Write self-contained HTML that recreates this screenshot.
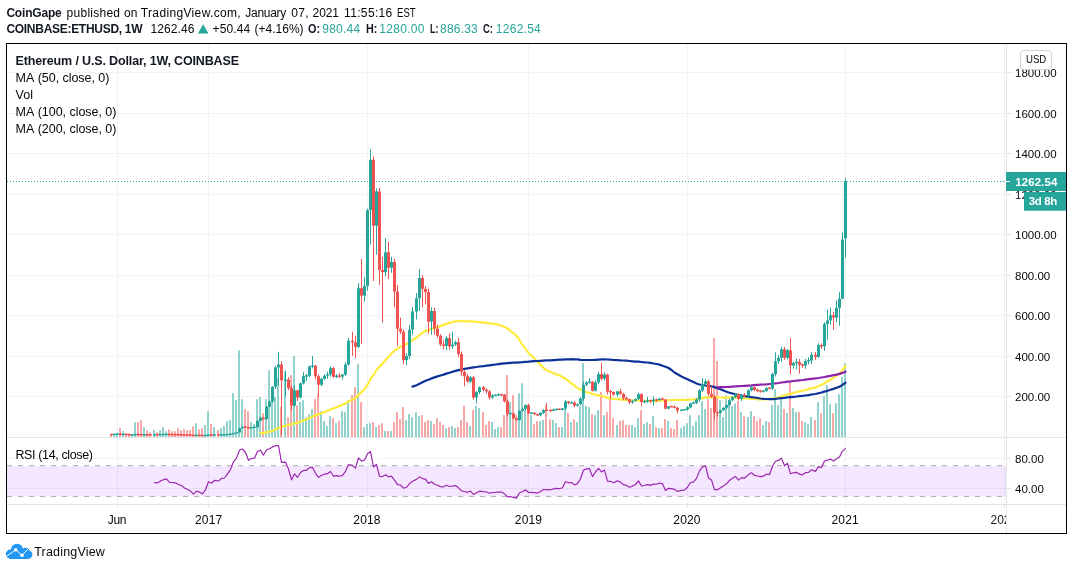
<!DOCTYPE html><html><head><meta charset="utf-8"><title>ETHUSD</title><style>
html,body{margin:0;padding:0;background:#fff}
body{width:1073px;height:570px;position:relative;overflow:hidden;font-family:"Liberation Sans",sans-serif;color:#131722}
span{white-space:nowrap}
#txt{position:absolute;left:0;top:0;width:1073px;height:570px;will-change:transform;opacity:0.999}
#frame{position:absolute;left:6px;top:43px;width:1061px;height:491px;box-sizing:border-box;border:1px solid #000}
svg{position:absolute;left:0;top:0}
</style></head><body><div id="txt">
<span style="position:absolute;left:6.40px;top:6px;font-size:12px;line-height:14px;letter-spacing:-0.196px;color:#131722;font-weight:bold;">CoinGape</span>
<span style="position:absolute;left:66.60px;top:6px;font-size:12px;line-height:14px;letter-spacing:0.258px;color:#05070d;">published&nbsp;on</span>
<span style="position:absolute;left:140.80px;top:6px;font-size:12px;line-height:14px;letter-spacing:0.346px;color:#05070d;">TradingView.com,</span>
<span style="position:absolute;left:245.30px;top:6px;font-size:12px;line-height:14px;letter-spacing:-0.282px;color:#05070d;">January</span>
<span style="position:absolute;left:291.30px;top:6px;font-size:12px;line-height:14px;letter-spacing:0.259px;color:#05070d;">07,</span>
<span style="position:absolute;left:312.60px;top:6px;font-size:12px;line-height:14px;letter-spacing:-0.132px;color:#05070d;">2021</span>
<span style="position:absolute;left:344.00px;top:6px;font-size:12px;line-height:14px;letter-spacing:0.354px;color:#05070d;">11:55:16</span>
<span style="position:absolute;left:396.80px;top:6px;font-size:12px;line-height:14px;letter-spacing:0.000px;color:#05070d;display:inline-block;transform-origin:0 0;transform:scaleX(0.7969);">EST</span>
<span style="position:absolute;left:6.40px;top:22px;font-size:12px;line-height:14px;letter-spacing:-0.286px;color:#131722;font-weight:bold;">COINBASE:ETHUSD,&nbsp;1W</span>
<span style="position:absolute;left:150.40px;top:22px;font-size:12px;line-height:14px;letter-spacing:0.120px;color:#05070d;">1262.46</span>
<span style="position:absolute;left:212.50px;top:22px;font-size:12px;line-height:14px;letter-spacing:0.132px;color:#05070d;">+50.44</span>
<span style="position:absolute;left:254.60px;top:22px;font-size:12px;line-height:14px;letter-spacing:-0.004px;color:#05070d;">(+4.16%)</span>
<span style="position:absolute;left:308.40px;top:22px;font-size:12px;line-height:14px;letter-spacing:0.000px;color:#131722;font-weight:bold;display:inline-block;transform-origin:0 0;transform:scaleX(0.9077);">O:</span>
<span style="position:absolute;left:322.30px;top:22px;font-size:12px;line-height:14px;letter-spacing:0.219px;color:#26a69a;">980.44</span>
<span style="position:absolute;left:365.80px;top:22px;font-size:12px;line-height:14px;letter-spacing:0.000px;color:#131722;font-weight:bold;display:inline-block;transform-origin:0 0;transform:scaleX(0.9003);">H:</span>
<span style="position:absolute;left:379.20px;top:22px;font-size:12px;line-height:14px;letter-spacing:0.320px;color:#26a69a;">1280.00</span>
<span style="position:absolute;left:430.00px;top:22px;font-size:12px;line-height:14px;letter-spacing:0.000px;color:#131722;font-weight:bold;display:inline-block;transform-origin:0 0;transform:scaleX(0.7416);">L:</span>
<span style="position:absolute;left:440.10px;top:22px;font-size:12px;line-height:14px;letter-spacing:0.199px;color:#26a69a;">886.33</span>
<span style="position:absolute;left:483.40px;top:22px;font-size:12px;line-height:14px;letter-spacing:0.000px;color:#131722;font-weight:bold;display:inline-block;transform-origin:0 0;transform:scaleX(0.7818);">C:</span>
<span style="position:absolute;left:495.80px;top:22px;font-size:12px;line-height:14px;letter-spacing:0.270px;color:#26a69a;">1262.54</span>
<svg width="1073" height="570" viewBox="0 0 1073 570">
<path d="M197.9 33.5 L203.2 24.3 L208.4 33.5 Z" fill="#26a69a"/>
<rect x="117.0" y="44" width="1" height="460" fill="#f1f3f4"/>
<rect x="117.0" y="505" width="1" height="3" fill="#e2e4e8"/>
<rect x="208.0" y="44" width="1" height="460" fill="#f1f3f4"/>
<rect x="208.0" y="505" width="1" height="3" fill="#e2e4e8"/>
<rect x="367.0" y="44" width="1" height="460" fill="#f1f3f4"/>
<rect x="367.0" y="505" width="1" height="3" fill="#e2e4e8"/>
<rect x="528.0" y="44" width="1" height="460" fill="#f1f3f4"/>
<rect x="528.0" y="505" width="1" height="3" fill="#e2e4e8"/>
<rect x="687.0" y="44" width="1" height="460" fill="#f1f3f4"/>
<rect x="687.0" y="505" width="1" height="3" fill="#e2e4e8"/>
<rect x="845.0" y="44" width="1" height="460" fill="#f1f3f4"/>
<rect x="845.0" y="505" width="1" height="3" fill="#e2e4e8"/>
<rect x="1004.0" y="44" width="1" height="460" fill="#f1f3f4"/>
<rect x="1004.0" y="505" width="1" height="3" fill="#e2e4e8"/>
<rect x="7" y="396" width="999" height="1" fill="#f1f3f4"/>
<rect x="1007" y="396" width="4" height="1" fill="#e2e4e8"/>
<rect x="7" y="356" width="999" height="1" fill="#f1f3f4"/>
<rect x="1007" y="356" width="4" height="1" fill="#e2e4e8"/>
<rect x="7" y="315" width="999" height="1" fill="#f1f3f4"/>
<rect x="1007" y="315" width="4" height="1" fill="#e2e4e8"/>
<rect x="7" y="275" width="999" height="1" fill="#f1f3f4"/>
<rect x="1007" y="275" width="4" height="1" fill="#e2e4e8"/>
<rect x="7" y="234" width="999" height="1" fill="#f1f3f4"/>
<rect x="1007" y="234" width="4" height="1" fill="#e2e4e8"/>
<rect x="7" y="194" width="999" height="1" fill="#f1f3f4"/>
<rect x="1007" y="194" width="4" height="1" fill="#e2e4e8"/>
<rect x="7" y="153" width="999" height="1" fill="#f1f3f4"/>
<rect x="1007" y="153" width="4" height="1" fill="#e2e4e8"/>
<rect x="7" y="113" width="999" height="1" fill="#f1f3f4"/>
<rect x="1007" y="113" width="4" height="1" fill="#e2e4e8"/>
<rect x="7" y="72" width="999" height="1" fill="#f1f3f4"/>
<rect x="1007" y="72" width="4" height="1" fill="#e2e4e8"/>
<rect x="7" y="458" width="999" height="1" fill="#f1f3f4"/>
<rect x="1007" y="458" width="4" height="1" fill="#e2e4e8"/>
<rect x="7" y="488" width="999" height="1" fill="#f1f3f4"/>
<rect x="1007" y="488" width="4" height="1" fill="#e2e4e8"/>
<rect x="7" y="437" width="1059" height="1" fill="#e2e4e8"/>
<rect x="7" y="504" width="1059" height="1" fill="#e2e4e8"/>
<rect x="1006" y="44" width="1" height="489" fill="#e2e4e8"/>
<rect x="7" y="466" width="999" height="30.5" fill="rgba(170,60,255,0.12)"/>
<line x1="7" y1="465.7" x2="1006" y2="465.7" stroke="#ababab" stroke-width="1" stroke-dasharray="5 6"/>
<line x1="7" y1="496.4" x2="1006" y2="496.4" stroke="#ababab" stroke-width="1" stroke-dasharray="5 6"/>
<rect x="110" y="434.0" width="2" height="3.0" fill="#f7a8a6"/>
<rect x="113" y="434.0" width="2" height="3.0" fill="#92d2cc"/>
<rect x="116" y="433.0" width="2" height="4.0" fill="#92d2cc"/>
<rect x="119" y="428.0" width="2" height="9.0" fill="#f7a8a6"/>
<rect x="122" y="431.2" width="2" height="5.8" fill="#92d2cc"/>
<rect x="125" y="433.3" width="2" height="3.7" fill="#f7a8a6"/>
<rect x="128" y="433.3" width="2" height="3.7" fill="#f7a8a6"/>
<rect x="131" y="434.2" width="2" height="2.8" fill="#92d2cc"/>
<rect x="134" y="422.3" width="2" height="14.7" fill="#92d2cc"/>
<rect x="137" y="422.3" width="2" height="14.7" fill="#f7a8a6"/>
<rect x="140" y="420.1" width="2" height="16.9" fill="#f7a8a6"/>
<rect x="143" y="427.2" width="2" height="9.8" fill="#92d2cc"/>
<rect x="146" y="430.2" width="2" height="6.8" fill="#f7a8a6"/>
<rect x="149" y="432.2" width="2" height="4.8" fill="#f7a8a6"/>
<rect x="153" y="430.2" width="2" height="6.8" fill="#92d2cc"/>
<rect x="156" y="432.2" width="2" height="4.8" fill="#f7a8a6"/>
<rect x="159" y="430.2" width="2" height="6.8" fill="#92d2cc"/>
<rect x="162" y="427.2" width="2" height="9.8" fill="#92d2cc"/>
<rect x="165" y="431.2" width="2" height="5.8" fill="#92d2cc"/>
<rect x="168" y="429.3" width="2" height="7.7" fill="#f7a8a6"/>
<rect x="171" y="431.2" width="2" height="5.8" fill="#f7a8a6"/>
<rect x="174" y="431.2" width="2" height="5.8" fill="#f7a8a6"/>
<rect x="177" y="428.1" width="2" height="8.9" fill="#f7a8a6"/>
<rect x="180" y="430.2" width="2" height="6.8" fill="#f7a8a6"/>
<rect x="183" y="429.3" width="2" height="7.7" fill="#f7a8a6"/>
<rect x="186" y="430.2" width="2" height="6.8" fill="#f7a8a6"/>
<rect x="189" y="430.2" width="2" height="6.8" fill="#f7a8a6"/>
<rect x="192" y="426.3" width="2" height="10.7" fill="#f7a8a6"/>
<rect x="195" y="423.2" width="2" height="13.8" fill="#92d2cc"/>
<rect x="198" y="429.3" width="2" height="7.7" fill="#f7a8a6"/>
<rect x="201" y="428.1" width="2" height="8.9" fill="#f7a8a6"/>
<rect x="204" y="425.0" width="2" height="12.0" fill="#92d2cc"/>
<rect x="207" y="411.2" width="2" height="25.8" fill="#92d2cc"/>
<rect x="210" y="424.0" width="2" height="13.0" fill="#f7a8a6"/>
<rect x="213" y="427.1" width="2" height="9.9" fill="#92d2cc"/>
<rect x="217" y="430.1" width="2" height="6.9" fill="#f7a8a6"/>
<rect x="220" y="428.1" width="2" height="8.9" fill="#92d2cc"/>
<rect x="223" y="426.0" width="2" height="11.0" fill="#92d2cc"/>
<rect x="226" y="421.1" width="2" height="15.9" fill="#92d2cc"/>
<rect x="229" y="420.1" width="2" height="16.9" fill="#92d2cc"/>
<rect x="232" y="393.0" width="2" height="44.0" fill="#92d2cc"/>
<rect x="235" y="400.2" width="2" height="36.8" fill="#92d2cc"/>
<rect x="238" y="350.5" width="2" height="86.5" fill="#92d2cc"/>
<rect x="241" y="399.2" width="2" height="37.8" fill="#92d2cc"/>
<rect x="244" y="409.1" width="2" height="27.9" fill="#f7a8a6"/>
<rect x="247" y="411.2" width="2" height="25.8" fill="#f7a8a6"/>
<rect x="250" y="422.0" width="2" height="15.0" fill="#92d2cc"/>
<rect x="253" y="424.0" width="2" height="13.0" fill="#92d2cc"/>
<rect x="256" y="399.2" width="2" height="37.8" fill="#92d2cc"/>
<rect x="259" y="397.1" width="2" height="39.9" fill="#92d2cc"/>
<rect x="262" y="413.2" width="2" height="23.8" fill="#f7a8a6"/>
<rect x="265" y="399.2" width="2" height="37.8" fill="#92d2cc"/>
<rect x="268" y="370.2" width="2" height="66.8" fill="#92d2cc"/>
<rect x="271" y="392.3" width="2" height="44.7" fill="#92d2cc"/>
<rect x="274" y="397.0" width="2" height="40.0" fill="#92d2cc"/>
<rect x="277" y="377.7" width="2" height="59.3" fill="#92d2cc"/>
<rect x="280" y="407.1" width="2" height="29.9" fill="#f7a8a6"/>
<rect x="284" y="371.2" width="2" height="65.8" fill="#92d2cc"/>
<rect x="287" y="417.3" width="2" height="19.7" fill="#f7a8a6"/>
<rect x="290" y="375.1" width="2" height="61.9" fill="#f7a8a6"/>
<rect x="293" y="356.1" width="2" height="80.9" fill="#92d2cc"/>
<rect x="296" y="405.3" width="2" height="31.7" fill="#f7a8a6"/>
<rect x="299" y="402.0" width="2" height="35.0" fill="#92d2cc"/>
<rect x="302" y="400.2" width="2" height="36.8" fill="#92d2cc"/>
<rect x="305" y="417.3" width="2" height="19.7" fill="#92d2cc"/>
<rect x="308" y="414.2" width="2" height="22.8" fill="#92d2cc"/>
<rect x="311" y="409.1" width="2" height="27.9" fill="#92d2cc"/>
<rect x="314" y="399.2" width="2" height="37.8" fill="#f7a8a6"/>
<rect x="317" y="394.4" width="2" height="42.6" fill="#f7a8a6"/>
<rect x="320" y="411.2" width="2" height="25.8" fill="#92d2cc"/>
<rect x="323" y="421.1" width="2" height="15.9" fill="#92d2cc"/>
<rect x="326" y="426.0" width="2" height="11.0" fill="#92d2cc"/>
<rect x="329" y="416.1" width="2" height="20.9" fill="#92d2cc"/>
<rect x="332" y="418.1" width="2" height="18.9" fill="#f7a8a6"/>
<rect x="335" y="423.2" width="2" height="13.8" fill="#92d2cc"/>
<rect x="338" y="421.1" width="2" height="15.9" fill="#f7a8a6"/>
<rect x="341" y="411.2" width="2" height="25.8" fill="#92d2cc"/>
<rect x="344" y="412.2" width="2" height="24.8" fill="#92d2cc"/>
<rect x="347" y="400.2" width="2" height="36.8" fill="#92d2cc"/>
<rect x="351" y="395.1" width="2" height="41.9" fill="#f7a8a6"/>
<rect x="354" y="387.1" width="2" height="49.9" fill="#f7a8a6"/>
<rect x="357" y="364.3" width="2" height="72.7" fill="#92d2cc"/>
<rect x="360" y="402.1" width="2" height="34.9" fill="#f7a8a6"/>
<rect x="363" y="427.1" width="2" height="9.9" fill="#92d2cc"/>
<rect x="366" y="424.0" width="2" height="13.0" fill="#92d2cc"/>
<rect x="369" y="423.2" width="2" height="13.8" fill="#92d2cc"/>
<rect x="372" y="422.1" width="2" height="14.9" fill="#f7a8a6"/>
<rect x="375" y="427.1" width="2" height="9.9" fill="#92d2cc"/>
<rect x="378" y="425.0" width="2" height="12.0" fill="#f7a8a6"/>
<rect x="381" y="423.2" width="2" height="13.8" fill="#f7a8a6"/>
<rect x="384" y="431.0" width="2" height="6.0" fill="#92d2cc"/>
<rect x="387" y="431.0" width="2" height="6.0" fill="#f7a8a6"/>
<rect x="390" y="431.0" width="2" height="6.0" fill="#92d2cc"/>
<rect x="393" y="422.1" width="2" height="14.9" fill="#f7a8a6"/>
<rect x="396" y="412.2" width="2" height="24.8" fill="#f7a8a6"/>
<rect x="399" y="419.1" width="2" height="17.9" fill="#f7a8a6"/>
<rect x="402" y="407.1" width="2" height="29.9" fill="#f7a8a6"/>
<rect x="405" y="420.1" width="2" height="16.9" fill="#92d2cc"/>
<rect x="408" y="414.0" width="2" height="23.0" fill="#92d2cc"/>
<rect x="411" y="417.1" width="2" height="19.9" fill="#92d2cc"/>
<rect x="415" y="412.2" width="2" height="24.8" fill="#92d2cc"/>
<rect x="418" y="416.1" width="2" height="20.9" fill="#92d2cc"/>
<rect x="421" y="415.1" width="2" height="21.9" fill="#f7a8a6"/>
<rect x="424" y="422.1" width="2" height="14.9" fill="#f7a8a6"/>
<rect x="427" y="420.1" width="2" height="16.9" fill="#f7a8a6"/>
<rect x="430" y="421.1" width="2" height="15.9" fill="#92d2cc"/>
<rect x="433" y="424.0" width="2" height="13.0" fill="#f7a8a6"/>
<rect x="436" y="418.1" width="2" height="18.9" fill="#f7a8a6"/>
<rect x="439" y="422.1" width="2" height="14.9" fill="#f7a8a6"/>
<rect x="442" y="425.0" width="2" height="12.0" fill="#f7a8a6"/>
<rect x="445" y="428.1" width="2" height="8.9" fill="#92d2cc"/>
<rect x="448" y="427.1" width="2" height="9.9" fill="#f7a8a6"/>
<rect x="451" y="426.0" width="2" height="11.0" fill="#92d2cc"/>
<rect x="454" y="428.1" width="2" height="8.9" fill="#92d2cc"/>
<rect x="457" y="427.1" width="2" height="9.9" fill="#f7a8a6"/>
<rect x="460" y="420.1" width="2" height="16.9" fill="#f7a8a6"/>
<rect x="463" y="406.0" width="2" height="31.0" fill="#f7a8a6"/>
<rect x="466" y="422.1" width="2" height="14.9" fill="#f7a8a6"/>
<rect x="469" y="426.0" width="2" height="11.0" fill="#92d2cc"/>
<rect x="472" y="410.1" width="2" height="26.9" fill="#f7a8a6"/>
<rect x="475" y="406.0" width="2" height="31.0" fill="#92d2cc"/>
<rect x="478" y="408.1" width="2" height="28.9" fill="#92d2cc"/>
<rect x="482" y="412.2" width="2" height="24.8" fill="#f7a8a6"/>
<rect x="485" y="425.0" width="2" height="12.0" fill="#f7a8a6"/>
<rect x="488" y="421.1" width="2" height="15.9" fill="#f7a8a6"/>
<rect x="491" y="422.0" width="2" height="15.0" fill="#92d2cc"/>
<rect x="494" y="429.1" width="2" height="7.9" fill="#92d2cc"/>
<rect x="497" y="427.1" width="2" height="9.9" fill="#92d2cc"/>
<rect x="500" y="427.1" width="2" height="9.9" fill="#f7a8a6"/>
<rect x="503" y="415.1" width="2" height="21.9" fill="#f7a8a6"/>
<rect x="506" y="375.0" width="2" height="62.0" fill="#f7a8a6"/>
<rect x="509" y="402.1" width="2" height="34.9" fill="#92d2cc"/>
<rect x="512" y="395.2" width="2" height="41.8" fill="#f7a8a6"/>
<rect x="515" y="415.2" width="2" height="21.8" fill="#f7a8a6"/>
<rect x="518" y="393.3" width="2" height="43.7" fill="#92d2cc"/>
<rect x="521" y="383.3" width="2" height="53.7" fill="#92d2cc"/>
<rect x="524" y="407.0" width="2" height="30.0" fill="#92d2cc"/>
<rect x="527" y="412.0" width="2" height="25.0" fill="#f7a8a6"/>
<rect x="530" y="415.2" width="2" height="21.8" fill="#92d2cc"/>
<rect x="533" y="424.1" width="2" height="12.9" fill="#f7a8a6"/>
<rect x="536" y="421.1" width="2" height="15.9" fill="#f7a8a6"/>
<rect x="539" y="421.1" width="2" height="15.9" fill="#92d2cc"/>
<rect x="542" y="420.0" width="2" height="17.0" fill="#92d2cc"/>
<rect x="545" y="405.3" width="2" height="31.7" fill="#f7a8a6"/>
<rect x="549" y="419.2" width="2" height="17.8" fill="#f7a8a6"/>
<rect x="552" y="420.0" width="2" height="17.0" fill="#92d2cc"/>
<rect x="555" y="423.1" width="2" height="13.9" fill="#92d2cc"/>
<rect x="558" y="427.1" width="2" height="9.9" fill="#f7a8a6"/>
<rect x="561" y="427.1" width="2" height="9.9" fill="#92d2cc"/>
<rect x="564" y="409.2" width="2" height="27.8" fill="#92d2cc"/>
<rect x="567" y="413.1" width="2" height="23.9" fill="#f7a8a6"/>
<rect x="570" y="422.0" width="2" height="15.0" fill="#92d2cc"/>
<rect x="573" y="419.2" width="2" height="17.8" fill="#f7a8a6"/>
<rect x="576" y="422.0" width="2" height="15.0" fill="#92d2cc"/>
<rect x="579" y="406.1" width="2" height="30.9" fill="#92d2cc"/>
<rect x="582" y="363.1" width="2" height="73.9" fill="#92d2cc"/>
<rect x="585" y="406.1" width="2" height="30.9" fill="#92d2cc"/>
<rect x="588" y="407.2" width="2" height="29.8" fill="#92d2cc"/>
<rect x="591" y="414.3" width="2" height="22.7" fill="#f7a8a6"/>
<rect x="594" y="415.2" width="2" height="21.8" fill="#92d2cc"/>
<rect x="597" y="410.0" width="2" height="27.0" fill="#92d2cc"/>
<rect x="600" y="392.1" width="2" height="44.9" fill="#f7a8a6"/>
<rect x="603" y="415.2" width="2" height="21.8" fill="#92d2cc"/>
<rect x="606" y="412.1" width="2" height="24.9" fill="#f7a8a6"/>
<rect x="609" y="398.5" width="2" height="38.5" fill="#f7a8a6"/>
<rect x="612" y="418.1" width="2" height="18.9" fill="#f7a8a6"/>
<rect x="616" y="425.0" width="2" height="12.0" fill="#92d2cc"/>
<rect x="619" y="421.1" width="2" height="15.9" fill="#f7a8a6"/>
<rect x="622" y="420.1" width="2" height="16.9" fill="#f7a8a6"/>
<rect x="625" y="425.0" width="2" height="12.0" fill="#f7a8a6"/>
<rect x="628" y="425.0" width="2" height="12.0" fill="#f7a8a6"/>
<rect x="631" y="425.0" width="2" height="12.0" fill="#92d2cc"/>
<rect x="634" y="427.1" width="2" height="9.9" fill="#92d2cc"/>
<rect x="637" y="418.1" width="2" height="18.9" fill="#92d2cc"/>
<rect x="640" y="410.1" width="2" height="26.9" fill="#f7a8a6"/>
<rect x="643" y="424.0" width="2" height="13.0" fill="#92d2cc"/>
<rect x="646" y="422.1" width="2" height="14.9" fill="#92d2cc"/>
<rect x="649" y="424.0" width="2" height="13.0" fill="#f7a8a6"/>
<rect x="652" y="416.1" width="2" height="20.9" fill="#92d2cc"/>
<rect x="655" y="427.1" width="2" height="9.9" fill="#f7a8a6"/>
<rect x="658" y="428.1" width="2" height="8.9" fill="#92d2cc"/>
<rect x="661" y="428.1" width="2" height="8.9" fill="#f7a8a6"/>
<rect x="664" y="419.1" width="2" height="17.9" fill="#f7a8a6"/>
<rect x="667" y="421.1" width="2" height="15.9" fill="#92d2cc"/>
<rect x="670" y="428.1" width="2" height="8.9" fill="#f7a8a6"/>
<rect x="673" y="429.1" width="2" height="7.9" fill="#f7a8a6"/>
<rect x="676" y="420.1" width="2" height="16.9" fill="#f7a8a6"/>
<rect x="680" y="428.1" width="2" height="8.9" fill="#92d2cc"/>
<rect x="683" y="426.0" width="2" height="11.0" fill="#92d2cc"/>
<rect x="686" y="423.2" width="2" height="13.8" fill="#92d2cc"/>
<rect x="689" y="415.1" width="2" height="21.9" fill="#92d2cc"/>
<rect x="692" y="426.0" width="2" height="11.0" fill="#92d2cc"/>
<rect x="695" y="421.1" width="2" height="15.9" fill="#92d2cc"/>
<rect x="698" y="415.1" width="2" height="21.9" fill="#92d2cc"/>
<rect x="701" y="401.2" width="2" height="35.8" fill="#92d2cc"/>
<rect x="704" y="409.1" width="2" height="27.9" fill="#92d2cc"/>
<rect x="707" y="399.2" width="2" height="37.8" fill="#f7a8a6"/>
<rect x="710" y="408.1" width="2" height="28.9" fill="#f7a8a6"/>
<rect x="713" y="338.0" width="2" height="99.0" fill="#f7a8a6"/>
<rect x="716" y="361.0" width="2" height="76.0" fill="#f7a8a6"/>
<rect x="719" y="400.2" width="2" height="36.8" fill="#92d2cc"/>
<rect x="722" y="417.0" width="2" height="20.0" fill="#92d2cc"/>
<rect x="725" y="395.3" width="2" height="41.7" fill="#92d2cc"/>
<rect x="728" y="400.0" width="2" height="37.0" fill="#92d2cc"/>
<rect x="731" y="406.2" width="2" height="30.8" fill="#92d2cc"/>
<rect x="734" y="403.3" width="2" height="33.7" fill="#92d2cc"/>
<rect x="737" y="401.0" width="2" height="36.0" fill="#f7a8a6"/>
<rect x="740" y="412.1" width="2" height="24.9" fill="#92d2cc"/>
<rect x="743" y="416.3" width="2" height="20.7" fill="#f7a8a6"/>
<rect x="747" y="417.0" width="2" height="20.0" fill="#92d2cc"/>
<rect x="750" y="411.2" width="2" height="25.8" fill="#92d2cc"/>
<rect x="753" y="416.1" width="2" height="20.9" fill="#f7a8a6"/>
<rect x="756" y="421.1" width="2" height="15.9" fill="#f7a8a6"/>
<rect x="759" y="418.2" width="2" height="18.8" fill="#f7a8a6"/>
<rect x="762" y="425.2" width="2" height="11.8" fill="#92d2cc"/>
<rect x="765" y="421.1" width="2" height="15.9" fill="#92d2cc"/>
<rect x="768" y="422.1" width="2" height="14.9" fill="#f7a8a6"/>
<rect x="771" y="405.2" width="2" height="31.8" fill="#92d2cc"/>
<rect x="774" y="389.3" width="2" height="47.7" fill="#92d2cc"/>
<rect x="777" y="405.2" width="2" height="31.8" fill="#92d2cc"/>
<rect x="780" y="398.0" width="2" height="39.0" fill="#92d2cc"/>
<rect x="783" y="409.0" width="2" height="28.0" fill="#f7a8a6"/>
<rect x="786" y="413.1" width="2" height="23.9" fill="#92d2cc"/>
<rect x="789" y="381.2" width="2" height="55.8" fill="#f7a8a6"/>
<rect x="792" y="408.1" width="2" height="28.9" fill="#92d2cc"/>
<rect x="795" y="412.1" width="2" height="24.9" fill="#92d2cc"/>
<rect x="798" y="412.1" width="2" height="24.9" fill="#f7a8a6"/>
<rect x="801" y="421.1" width="2" height="15.9" fill="#f7a8a6"/>
<rect x="804" y="422.2" width="2" height="14.8" fill="#92d2cc"/>
<rect x="807" y="424.1" width="2" height="12.9" fill="#92d2cc"/>
<rect x="810" y="417.1" width="2" height="19.9" fill="#92d2cc"/>
<rect x="814" y="420.0" width="2" height="17.0" fill="#f7a8a6"/>
<rect x="817" y="402.2" width="2" height="34.8" fill="#92d2cc"/>
<rect x="820" y="413.1" width="2" height="23.9" fill="#f7a8a6"/>
<rect x="823" y="396.1" width="2" height="40.9" fill="#92d2cc"/>
<rect x="826" y="385.2" width="2" height="51.8" fill="#92d2cc"/>
<rect x="829" y="404.1" width="2" height="32.9" fill="#92d2cc"/>
<rect x="832" y="413.1" width="2" height="23.9" fill="#f7a8a6"/>
<rect x="835" y="403.2" width="2" height="33.8" fill="#92d2cc"/>
<rect x="838" y="394.2" width="2" height="42.8" fill="#92d2cc"/>
<rect x="841" y="377.2" width="2" height="59.8" fill="#92d2cc"/>
<rect x="844" y="363.5" width="2" height="73.5" fill="#92d2cc"/>
<path d="M260.5 433.2 L263.5 432.9 L266.5 432.3 L269.5 431.7 L272.5 430.7 L275.5 429.4 L278.5 428.0 L281.5 426.9 L285.5 425.8 L288.5 424.8 L291.5 424.3 L294.5 423.4 L297.5 422.6 L300.5 421.6 L303.5 420.4 L306.5 419.3 L309.5 417.9 L312.5 416.5 L315.5 415.4 L318.5 414.4 L321.5 413.3 L324.5 412.1 L327.5 410.9 L330.5 409.5 L333.5 408.4 L336.5 407.2 L339.5 406.0 L342.5 404.8 L345.5 403.4 L348.5 401.5 L352.5 399.6 L355.5 397.9 L358.5 394.9 L361.5 392.1 L364.5 389.2 L367.5 384.7 L370.5 379.2 L373.5 375.0 L376.5 370.1 L379.5 366.8 L382.5 363.6 L385.5 360.0 L388.5 356.7 L391.5 353.4 L394.5 350.7 L397.5 348.7 L400.5 346.8 L403.5 345.4 L406.5 344.0 L409.5 342.2 L412.5 340.0 L416.5 337.6 L419.5 335.1 L422.5 332.8 L425.5 330.9 L428.5 330.0 L431.5 328.9 L434.5 327.9 L437.5 327.0 L440.5 326.1 L443.5 324.9 L446.5 323.9 L449.5 322.9 L452.5 322.1 L455.5 321.4 L458.5 321.0 L461.5 321.1 L464.5 321.3 L467.5 321.4 L470.5 321.3 L473.5 321.6 L476.5 321.9 L479.5 322.2 L483.5 322.6 L486.5 322.9 L489.5 323.4 L492.5 323.7 L495.5 324.2 L498.5 324.8 L501.5 325.8 L504.5 327.0 L507.5 328.3 L510.5 330.9 L513.5 333.3 L516.5 336.0 L519.5 340.0 L522.5 345.0 L525.5 348.6 L528.5 353.0 L531.5 355.9 L534.5 358.7 L537.5 362.0 L540.5 364.9 L543.5 367.8 L546.5 370.2 L550.5 371.8 L553.5 373.4 L556.5 374.4 L559.5 375.4 L562.5 377.0 L565.5 378.8 L568.5 380.9 L571.5 383.4 L574.5 385.7 L577.5 388.0 L580.5 389.5 L583.5 391.0 L586.5 392.1 L589.5 393.0 L592.5 393.9 L595.5 394.7 L598.5 395.4 L601.5 396.0 L604.5 396.6 L607.5 397.6 L610.5 398.4 L613.5 398.8 L617.5 399.1 L620.5 399.4 L623.5 399.8 L626.5 399.8 L629.5 400.0 L632.5 400.3 L635.5 400.5 L638.5 400.6 L641.5 400.6 L644.5 400.8 L647.5 400.9 L650.5 401.0 L653.5 401.1 L656.5 401.1 L659.5 400.8 L662.5 400.5 L665.5 400.3 L668.5 400.0 L671.5 400.0 L674.5 399.9 L677.5 400.0 L681.5 400.0 L684.5 399.9 L687.5 399.8 L690.5 399.5 L693.5 399.3 L696.5 399.1 L699.5 398.7 L702.5 398.2 L705.5 397.6 L708.5 397.3 L711.5 397.1 L714.5 397.2 L717.5 397.4 L720.5 397.5 L723.5 397.6 L726.5 397.6 L729.5 397.5 L732.5 397.5 L735.5 397.7 L738.5 398.0 L741.5 398.3 L744.5 398.4 L748.5 398.5 L751.5 398.8 L754.5 399.0 L757.5 399.4 L760.5 399.4 L763.5 399.3 L766.5 399.2 L769.5 399.1 L772.5 398.7 L775.5 398.0 L778.5 397.2 L781.5 396.1 L784.5 395.3 L787.5 394.3 L790.5 393.7 L793.5 392.9 L796.5 392.1 L799.5 391.4 L802.5 390.7 L805.5 389.9 L808.5 389.1 L811.5 388.3 L815.5 387.4 L818.5 386.1 L821.5 384.9 L824.5 383.3 L827.5 381.5 L830.5 379.6 L833.5 377.8 L836.5 375.7 L839.5 373.6 L842.5 370.3 L845.5 365.9" fill="none" stroke="#ffeb3b" stroke-width="2.2" stroke-linejoin="round" stroke-linecap="round"/>
<path d="M412.5 386.6 L416.5 385.2 L419.5 383.7 L422.5 382.2 L425.5 380.8 L428.5 379.7 L431.5 378.4 L434.5 377.4 L437.5 376.4 L440.5 375.5 L443.5 374.6 L446.5 373.6 L449.5 372.8 L452.5 371.8 L455.5 370.9 L458.5 370.1 L461.5 369.5 L464.5 368.9 L467.5 368.4 L470.5 367.8 L473.5 367.4 L476.5 367.0 L479.5 366.5 L483.5 366.1 L486.5 365.7 L489.5 365.3 L492.5 364.9 L495.5 364.5 L498.5 364.1 L501.5 363.7 L504.5 363.3 L507.5 363.1 L510.5 362.9 L513.5 362.7 L516.5 362.6 L519.5 362.3 L522.5 362.1 L525.5 361.8 L528.5 361.6 L531.5 361.3 L534.5 361.1 L537.5 361.0 L540.5 360.8 L543.5 360.6 L546.5 360.4 L550.5 360.3 L553.5 360.1 L556.5 359.9 L559.5 359.7 L562.5 359.6 L565.5 359.4 L568.5 359.3 L571.5 359.2 L574.5 359.3 L577.5 359.4 L580.5 359.8 L583.5 360.0 L586.5 360.0 L589.5 360.0 L592.5 360.0 L595.5 359.8 L598.5 359.6 L601.5 359.4 L604.5 359.4 L607.5 359.5 L610.5 359.7 L613.5 360.0 L617.5 360.2 L620.5 360.4 L623.5 360.5 L626.5 360.7 L629.5 361.0 L632.5 361.3 L635.5 361.6 L638.5 361.7 L641.5 362.0 L644.5 362.3 L647.5 362.5 L650.5 362.9 L653.5 363.5 L656.5 364.0 L659.5 364.6 L662.5 365.7 L665.5 366.8 L668.5 368.0 L671.5 370.0 L674.5 372.5 L677.5 374.3 L681.5 376.5 L684.5 377.9 L687.5 379.2 L690.5 380.7 L693.5 382.1 L696.5 383.5 L699.5 384.5 L702.5 385.0 L705.5 385.5 L708.5 385.9 L711.5 386.3 L714.5 387.1 L717.5 388.1 L720.5 389.2 L723.5 390.5 L726.5 391.7 L729.5 392.8 L732.5 393.5 L735.5 394.3 L738.5 395.1 L741.5 395.6 L744.5 396.2 L748.5 396.6 L751.5 397.1 L754.5 397.5 L757.5 398.0 L760.5 398.5 L763.5 398.9 L766.5 399.0 L769.5 399.1 L772.5 399.1 L775.5 398.9 L778.5 398.5 L781.5 398.1 L784.5 397.8 L787.5 397.4 L790.5 397.1 L793.5 396.8 L796.5 396.5 L799.5 396.1 L802.5 395.9 L805.5 395.5 L808.5 395.1 L811.5 394.5 L815.5 394.0 L818.5 393.2 L821.5 392.5 L824.5 391.6 L827.5 390.7 L830.5 389.8 L833.5 388.9 L836.5 387.8 L839.5 386.7 L842.5 384.9 L845.5 382.6" fill="none" stroke="#0c3299" stroke-width="2.2" stroke-linejoin="round" stroke-linecap="round"/>
<path d="M717.5 387.4 L720.5 387.2 L723.5 387.1 L726.5 387.0 L729.5 386.8 L732.5 386.6 L735.5 386.4 L738.5 386.2 L741.5 386.0 L744.5 385.8 L748.5 385.6 L751.5 385.4 L754.5 385.1 L757.5 384.9 L760.5 384.7 L763.5 384.5 L766.5 384.3 L769.5 384.0 L772.5 383.7 L775.5 383.4 L778.5 383.0 L781.5 382.5 L784.5 382.2 L787.5 381.7 L790.5 381.4 L793.5 381.0 L796.5 380.7 L799.5 380.3 L802.5 380.0 L805.5 379.6 L808.5 379.2 L811.5 378.8 L815.5 378.4 L818.5 378.0 L821.5 377.5 L824.5 377.0 L827.5 376.4 L830.5 375.8 L833.5 375.2 L836.5 374.6 L839.5 373.9 L842.5 372.9 L845.5 371.7" fill="none" stroke="#8e24aa" stroke-width="2.2" stroke-linejoin="round" stroke-linecap="round"/>
<rect x="111" y="434.2" width="1" height="1.0" fill="#ef5350"/>
<rect x="110" y="433.7" width="3" height="1.4" fill="#ef5350"/>
<rect x="114" y="434.1" width="1" height="1.0" fill="#26a69a"/>
<rect x="113" y="433.6" width="3" height="1.4" fill="#26a69a"/>
<rect x="117" y="433.8" width="1" height="1.0" fill="#26a69a"/>
<rect x="116" y="433.3" width="3" height="1.4" fill="#26a69a"/>
<rect x="120" y="432.6" width="1" height="2.1" fill="#ef5350"/>
<rect x="119" y="433.6" width="3" height="1.4" fill="#ef5350"/>
<rect x="123" y="434.2" width="1" height="1.0" fill="#26a69a"/>
<rect x="122" y="433.7" width="3" height="1.4" fill="#26a69a"/>
<rect x="126" y="434.2" width="1" height="1.0" fill="#ef5350"/>
<rect x="125" y="433.7" width="3" height="1.4" fill="#ef5350"/>
<rect x="129" y="434.5" width="1" height="1.0" fill="#ef5350"/>
<rect x="128" y="434.0" width="3" height="1.4" fill="#ef5350"/>
<rect x="132" y="434.7" width="1" height="1.0" fill="#26a69a"/>
<rect x="131" y="434.1" width="3" height="1.4" fill="#26a69a"/>
<rect x="135" y="434.4" width="1" height="1.0" fill="#26a69a"/>
<rect x="134" y="433.9" width="3" height="1.4" fill="#26a69a"/>
<rect x="138" y="434.4" width="1" height="1.0" fill="#ef5350"/>
<rect x="137" y="433.8" width="3" height="1.4" fill="#ef5350"/>
<rect x="141" y="434.5" width="1" height="1.0" fill="#ef5350"/>
<rect x="140" y="434.0" width="3" height="1.4" fill="#ef5350"/>
<rect x="144" y="434.6" width="1" height="1.0" fill="#26a69a"/>
<rect x="143" y="434.1" width="3" height="1.4" fill="#26a69a"/>
<rect x="147" y="434.7" width="1" height="1.0" fill="#ef5350"/>
<rect x="146" y="434.0" width="3" height="1.4" fill="#ef5350"/>
<rect x="150" y="434.7" width="1" height="1.0" fill="#ef5350"/>
<rect x="149" y="434.1" width="3" height="1.4" fill="#ef5350"/>
<rect x="154" y="434.6" width="1" height="1.0" fill="#26a69a"/>
<rect x="153" y="434.0" width="3" height="1.4" fill="#26a69a"/>
<rect x="157" y="434.5" width="1" height="1.0" fill="#ef5350"/>
<rect x="156" y="433.9" width="3" height="1.4" fill="#ef5350"/>
<rect x="160" y="434.4" width="1" height="1.0" fill="#26a69a"/>
<rect x="159" y="433.9" width="3" height="1.4" fill="#26a69a"/>
<rect x="163" y="434.4" width="1" height="1.0" fill="#26a69a"/>
<rect x="162" y="433.7" width="3" height="1.4" fill="#26a69a"/>
<rect x="166" y="434.2" width="1" height="1.0" fill="#26a69a"/>
<rect x="165" y="433.7" width="3" height="1.4" fill="#26a69a"/>
<rect x="169" y="434.3" width="1" height="1.0" fill="#ef5350"/>
<rect x="168" y="433.7" width="3" height="1.4" fill="#ef5350"/>
<rect x="172" y="434.5" width="1" height="1.0" fill="#ef5350"/>
<rect x="171" y="433.9" width="3" height="1.4" fill="#ef5350"/>
<rect x="175" y="434.5" width="1" height="1.0" fill="#ef5350"/>
<rect x="174" y="433.9" width="3" height="1.4" fill="#ef5350"/>
<rect x="178" y="434.6" width="1" height="1.0" fill="#ef5350"/>
<rect x="177" y="434.0" width="3" height="1.4" fill="#ef5350"/>
<rect x="181" y="434.7" width="1" height="1.0" fill="#ef5350"/>
<rect x="180" y="434.1" width="3" height="1.4" fill="#ef5350"/>
<rect x="184" y="434.7" width="1" height="1.0" fill="#ef5350"/>
<rect x="183" y="434.2" width="3" height="1.4" fill="#ef5350"/>
<rect x="187" y="434.9" width="1" height="1.0" fill="#ef5350"/>
<rect x="186" y="434.3" width="3" height="1.4" fill="#ef5350"/>
<rect x="190" y="435.0" width="1" height="1.0" fill="#ef5350"/>
<rect x="189" y="434.4" width="3" height="1.4" fill="#ef5350"/>
<rect x="193" y="435.2" width="1" height="1.0" fill="#ef5350"/>
<rect x="192" y="434.6" width="3" height="1.4" fill="#ef5350"/>
<rect x="196" y="435.3" width="1" height="1.0" fill="#26a69a"/>
<rect x="195" y="434.7" width="3" height="1.4" fill="#26a69a"/>
<rect x="199" y="435.3" width="1" height="1.0" fill="#ef5350"/>
<rect x="198" y="434.7" width="3" height="1.4" fill="#ef5350"/>
<rect x="202" y="435.3" width="1" height="1.0" fill="#ef5350"/>
<rect x="201" y="434.8" width="3" height="1.4" fill="#ef5350"/>
<rect x="205" y="435.3" width="1" height="1.0" fill="#26a69a"/>
<rect x="204" y="434.8" width="3" height="1.4" fill="#26a69a"/>
<rect x="208" y="434.8" width="1" height="1.0" fill="#26a69a"/>
<rect x="207" y="434.4" width="3" height="1.4" fill="#26a69a"/>
<rect x="211" y="434.8" width="1" height="1.0" fill="#ef5350"/>
<rect x="210" y="434.3" width="3" height="1.4" fill="#ef5350"/>
<rect x="214" y="434.8" width="1" height="1.0" fill="#26a69a"/>
<rect x="213" y="434.2" width="3" height="1.4" fill="#26a69a"/>
<rect x="218" y="434.8" width="1" height="1.0" fill="#ef5350"/>
<rect x="217" y="434.2" width="3" height="1.4" fill="#ef5350"/>
<rect x="221" y="434.6" width="1" height="1.0" fill="#26a69a"/>
<rect x="220" y="434.1" width="3" height="1.4" fill="#26a69a"/>
<rect x="224" y="434.6" width="1" height="1.0" fill="#26a69a"/>
<rect x="223" y="434.0" width="3" height="1.4" fill="#26a69a"/>
<rect x="227" y="434.3" width="1" height="1.0" fill="#26a69a"/>
<rect x="226" y="433.8" width="3" height="1.4" fill="#26a69a"/>
<rect x="230" y="434.0" width="1" height="1.0" fill="#26a69a"/>
<rect x="229" y="433.5" width="3" height="1.4" fill="#26a69a"/>
<rect x="233" y="433.0" width="1" height="1.1" fill="#26a69a"/>
<rect x="232" y="432.9" width="3" height="1.4" fill="#26a69a"/>
<rect x="236" y="432.3" width="1" height="1.0" fill="#26a69a"/>
<rect x="235" y="432.0" width="3" height="1.4" fill="#26a69a"/>
<rect x="239" y="427.9" width="1" height="4.7" fill="#26a69a"/>
<rect x="238" y="428.1" width="3" height="4.3" fill="#26a69a"/>
<rect x="242" y="426.6" width="1" height="1.9" fill="#26a69a"/>
<rect x="241" y="426.8" width="3" height="1.4" fill="#26a69a"/>
<rect x="245" y="426.7" width="1" height="1.0" fill="#ef5350"/>
<rect x="244" y="426.4" width="3" height="1.4" fill="#ef5350"/>
<rect x="248" y="427.0" width="1" height="1.7" fill="#ef5350"/>
<rect x="247" y="427.1" width="3" height="1.4" fill="#ef5350"/>
<rect x="251" y="426.9" width="1" height="1.8" fill="#26a69a"/>
<rect x="250" y="427.1" width="3" height="1.4" fill="#26a69a"/>
<rect x="254" y="427.0" width="1" height="1.0" fill="#26a69a"/>
<rect x="253" y="426.5" width="3" height="1.4" fill="#26a69a"/>
<rect x="257" y="420.3" width="1" height="7.7" fill="#26a69a"/>
<rect x="256" y="420.8" width="3" height="6.4" fill="#26a69a"/>
<rect x="260" y="416.9" width="1" height="4.3" fill="#26a69a"/>
<rect x="259" y="417.8" width="3" height="3.0" fill="#26a69a"/>
<rect x="263" y="417.4" width="1" height="2.0" fill="#ef5350"/>
<rect x="262" y="417.7" width="3" height="1.4" fill="#ef5350"/>
<rect x="266" y="405.9" width="1" height="14.2" fill="#26a69a"/>
<rect x="265" y="406.6" width="3" height="12.4" fill="#26a69a"/>
<rect x="269" y="400.4" width="1" height="7.0" fill="#26a69a"/>
<rect x="268" y="401.6" width="3" height="5.1" fill="#26a69a"/>
<rect x="272" y="386.2" width="1" height="16.8" fill="#26a69a"/>
<rect x="271" y="386.8" width="3" height="14.8" fill="#26a69a"/>
<rect x="275" y="365.8" width="1" height="23.2" fill="#26a69a"/>
<rect x="274" y="367.5" width="3" height="19.2" fill="#26a69a"/>
<rect x="278" y="351.9" width="1" height="33.4" fill="#26a69a"/>
<rect x="277" y="364.5" width="3" height="3.0" fill="#26a69a"/>
<rect x="281" y="361.1" width="1" height="74.3" fill="#ef5350"/>
<rect x="280" y="364.5" width="3" height="15.8" fill="#ef5350"/>
<rect x="285" y="370.6" width="1" height="25.3" fill="#26a69a"/>
<rect x="284" y="379.3" width="3" height="1.4" fill="#26a69a"/>
<rect x="288" y="377.1" width="1" height="13.1" fill="#ef5350"/>
<rect x="287" y="379.7" width="3" height="8.3" fill="#ef5350"/>
<rect x="291" y="385.7" width="1" height="25.0" fill="#ef5350"/>
<rect x="290" y="388.0" width="3" height="17.6" fill="#ef5350"/>
<rect x="294" y="385.4" width="1" height="21.5" fill="#26a69a"/>
<rect x="293" y="390.4" width="3" height="15.2" fill="#26a69a"/>
<rect x="297" y="389.7" width="1" height="11.3" fill="#ef5350"/>
<rect x="296" y="390.4" width="3" height="7.1" fill="#ef5350"/>
<rect x="300" y="382.6" width="1" height="15.7" fill="#26a69a"/>
<rect x="299" y="383.3" width="3" height="14.2" fill="#26a69a"/>
<rect x="303" y="372.2" width="1" height="12.2" fill="#26a69a"/>
<rect x="302" y="376.2" width="3" height="7.1" fill="#26a69a"/>
<rect x="306" y="373.8" width="1" height="7.5" fill="#26a69a"/>
<rect x="305" y="375.3" width="3" height="1.4" fill="#26a69a"/>
<rect x="309" y="365.7" width="1" height="11.4" fill="#26a69a"/>
<rect x="308" y="366.5" width="3" height="9.3" fill="#26a69a"/>
<rect x="312" y="356.0" width="1" height="12.3" fill="#26a69a"/>
<rect x="311" y="365.4" width="3" height="1.4" fill="#26a69a"/>
<rect x="315" y="364.8" width="1" height="14.5" fill="#ef5350"/>
<rect x="314" y="365.7" width="3" height="10.5" fill="#ef5350"/>
<rect x="318" y="374.2" width="1" height="22.7" fill="#ef5350"/>
<rect x="317" y="376.2" width="3" height="8.5" fill="#ef5350"/>
<rect x="321" y="377.7" width="1" height="8.5" fill="#26a69a"/>
<rect x="320" y="378.9" width="3" height="5.9" fill="#26a69a"/>
<rect x="324" y="374.3" width="1" height="5.6" fill="#26a69a"/>
<rect x="323" y="375.8" width="3" height="3.0" fill="#26a69a"/>
<rect x="327" y="371.8" width="1" height="7.1" fill="#26a69a"/>
<rect x="326" y="374.4" width="3" height="1.4" fill="#26a69a"/>
<rect x="330" y="366.2" width="1" height="10.3" fill="#26a69a"/>
<rect x="329" y="368.1" width="3" height="6.3" fill="#26a69a"/>
<rect x="333" y="367.1" width="1" height="10.8" fill="#ef5350"/>
<rect x="332" y="368.1" width="3" height="8.7" fill="#ef5350"/>
<rect x="336" y="374.1" width="1" height="4.0" fill="#26a69a"/>
<rect x="335" y="375.6" width="3" height="1.4" fill="#26a69a"/>
<rect x="339" y="373.1" width="1" height="4.7" fill="#ef5350"/>
<rect x="338" y="375.4" width="3" height="1.4" fill="#ef5350"/>
<rect x="342" y="373.8" width="1" height="5.7" fill="#26a69a"/>
<rect x="341" y="374.6" width="3" height="2.0" fill="#26a69a"/>
<rect x="345" y="362.3" width="1" height="13.6" fill="#26a69a"/>
<rect x="344" y="364.5" width="3" height="10.1" fill="#26a69a"/>
<rect x="348" y="337.8" width="1" height="28.0" fill="#26a69a"/>
<rect x="347" y="340.8" width="3" height="23.7" fill="#26a69a"/>
<rect x="352" y="331.7" width="1" height="24.3" fill="#ef5350"/>
<rect x="351" y="340.8" width="3" height="1.6" fill="#ef5350"/>
<rect x="355" y="335.8" width="1" height="22.3" fill="#ef5350"/>
<rect x="354" y="342.4" width="3" height="4.5" fill="#ef5350"/>
<rect x="358" y="283.1" width="1" height="64.8" fill="#26a69a"/>
<rect x="357" y="288.2" width="3" height="58.7" fill="#26a69a"/>
<rect x="361" y="258.8" width="1" height="85.1" fill="#ef5350"/>
<rect x="360" y="288.2" width="3" height="7.5" fill="#ef5350"/>
<rect x="364" y="277.0" width="1" height="24.7" fill="#26a69a"/>
<rect x="363" y="286.1" width="3" height="9.5" fill="#26a69a"/>
<rect x="367" y="208.6" width="1" height="82.1" fill="#26a69a"/>
<rect x="366" y="210.2" width="3" height="75.9" fill="#26a69a"/>
<rect x="370" y="149.4" width="1" height="95.2" fill="#26a69a"/>
<rect x="369" y="159.8" width="3" height="50.4" fill="#26a69a"/>
<rect x="373" y="156.5" width="1" height="124.5" fill="#ef5350"/>
<rect x="372" y="159.8" width="3" height="65.8" fill="#ef5350"/>
<rect x="376" y="188.3" width="1" height="66.4" fill="#26a69a"/>
<rect x="375" y="191.4" width="3" height="34.2" fill="#26a69a"/>
<rect x="379" y="187.9" width="1" height="97.2" fill="#ef5350"/>
<rect x="378" y="191.4" width="3" height="78.6" fill="#ef5350"/>
<rect x="382" y="256.8" width="1" height="65.8" fill="#ef5350"/>
<rect x="381" y="269.9" width="3" height="2.2" fill="#ef5350"/>
<rect x="385" y="238.3" width="1" height="37.9" fill="#26a69a"/>
<rect x="384" y="252.3" width="3" height="19.8" fill="#26a69a"/>
<rect x="388" y="241.6" width="1" height="37.5" fill="#ef5350"/>
<rect x="387" y="252.3" width="3" height="15.4" fill="#ef5350"/>
<rect x="391" y="256.8" width="1" height="15.9" fill="#26a69a"/>
<rect x="390" y="262.0" width="3" height="5.7" fill="#26a69a"/>
<rect x="394" y="258.8" width="1" height="48.6" fill="#ef5350"/>
<rect x="393" y="262.0" width="3" height="29.6" fill="#ef5350"/>
<rect x="397" y="284.9" width="1" height="61.0" fill="#ef5350"/>
<rect x="396" y="291.6" width="3" height="37.1" fill="#ef5350"/>
<rect x="400" y="317.5" width="1" height="16.4" fill="#ef5350"/>
<rect x="399" y="328.7" width="3" height="3.0" fill="#ef5350"/>
<rect x="403" y="329.7" width="1" height="34.4" fill="#ef5350"/>
<rect x="402" y="331.7" width="3" height="28.4" fill="#ef5350"/>
<rect x="406" y="353.2" width="1" height="11.9" fill="#26a69a"/>
<rect x="405" y="356.0" width="3" height="4.1" fill="#26a69a"/>
<rect x="409" y="325.1" width="1" height="34.0" fill="#26a69a"/>
<rect x="408" y="329.7" width="3" height="26.3" fill="#26a69a"/>
<rect x="412" y="307.0" width="1" height="27.8" fill="#26a69a"/>
<rect x="411" y="311.4" width="3" height="18.2" fill="#26a69a"/>
<rect x="416" y="293.2" width="1" height="26.3" fill="#26a69a"/>
<rect x="415" y="298.3" width="3" height="13.2" fill="#26a69a"/>
<rect x="419" y="269.1" width="1" height="41.9" fill="#26a69a"/>
<rect x="418" y="278.0" width="3" height="20.2" fill="#26a69a"/>
<rect x="422" y="275.0" width="1" height="32.4" fill="#ef5350"/>
<rect x="421" y="278.0" width="3" height="10.7" fill="#ef5350"/>
<rect x="425" y="286.0" width="1" height="18.3" fill="#ef5350"/>
<rect x="424" y="288.8" width="3" height="3.2" fill="#ef5350"/>
<rect x="428" y="288.5" width="1" height="45.2" fill="#ef5350"/>
<rect x="427" y="292.0" width="3" height="29.6" fill="#ef5350"/>
<rect x="431" y="307.4" width="1" height="27.3" fill="#26a69a"/>
<rect x="430" y="311.0" width="3" height="10.5" fill="#26a69a"/>
<rect x="434" y="307.7" width="1" height="26.8" fill="#ef5350"/>
<rect x="433" y="311.0" width="3" height="17.6" fill="#ef5350"/>
<rect x="437" y="324.5" width="1" height="13.2" fill="#ef5350"/>
<rect x="436" y="328.7" width="3" height="7.1" fill="#ef5350"/>
<rect x="440" y="334.1" width="1" height="12.2" fill="#ef5350"/>
<rect x="439" y="335.8" width="3" height="8.7" fill="#ef5350"/>
<rect x="443" y="340.3" width="1" height="9.3" fill="#ef5350"/>
<rect x="442" y="344.5" width="3" height="1.4" fill="#ef5350"/>
<rect x="446" y="336.3" width="1" height="13.7" fill="#26a69a"/>
<rect x="445" y="338.0" width="3" height="7.9" fill="#26a69a"/>
<rect x="449" y="333.3" width="1" height="16.5" fill="#ef5350"/>
<rect x="448" y="338.0" width="3" height="8.3" fill="#ef5350"/>
<rect x="452" y="331.9" width="1" height="17.3" fill="#26a69a"/>
<rect x="451" y="344.7" width="3" height="1.6" fill="#26a69a"/>
<rect x="455" y="340.6" width="1" height="5.2" fill="#26a69a"/>
<rect x="454" y="342.2" width="3" height="2.4" fill="#26a69a"/>
<rect x="458" y="337.8" width="1" height="19.5" fill="#ef5350"/>
<rect x="457" y="342.2" width="3" height="11.7" fill="#ef5350"/>
<rect x="461" y="351.4" width="1" height="24.4" fill="#ef5350"/>
<rect x="460" y="354.0" width="3" height="18.0" fill="#ef5350"/>
<rect x="464" y="370.2" width="1" height="16.2" fill="#ef5350"/>
<rect x="463" y="372.0" width="3" height="4.3" fill="#ef5350"/>
<rect x="467" y="373.7" width="1" height="9.0" fill="#ef5350"/>
<rect x="466" y="376.2" width="3" height="5.3" fill="#ef5350"/>
<rect x="470" y="376.0" width="1" height="6.9" fill="#26a69a"/>
<rect x="469" y="377.3" width="3" height="4.3" fill="#26a69a"/>
<rect x="473" y="376.0" width="1" height="23.5" fill="#ef5350"/>
<rect x="472" y="377.3" width="3" height="20.2" fill="#ef5350"/>
<rect x="476" y="391.1" width="1" height="12.5" fill="#26a69a"/>
<rect x="475" y="392.0" width="3" height="5.5" fill="#26a69a"/>
<rect x="479" y="386.4" width="1" height="7.9" fill="#26a69a"/>
<rect x="478" y="387.2" width="3" height="4.9" fill="#26a69a"/>
<rect x="483" y="386.0" width="1" height="5.3" fill="#ef5350"/>
<rect x="482" y="387.2" width="3" height="2.6" fill="#ef5350"/>
<rect x="486" y="388.3" width="1" height="5.3" fill="#ef5350"/>
<rect x="485" y="389.8" width="3" height="1.6" fill="#ef5350"/>
<rect x="489" y="390.2" width="1" height="9.4" fill="#ef5350"/>
<rect x="488" y="391.4" width="3" height="6.1" fill="#ef5350"/>
<rect x="492" y="394.2" width="1" height="4.6" fill="#26a69a"/>
<rect x="491" y="395.5" width="3" height="2.0" fill="#26a69a"/>
<rect x="495" y="394.0" width="1" height="2.0" fill="#26a69a"/>
<rect x="494" y="394.7" width="3" height="1.4" fill="#26a69a"/>
<rect x="498" y="393.3" width="1" height="2.8" fill="#26a69a"/>
<rect x="497" y="394.2" width="3" height="1.4" fill="#26a69a"/>
<rect x="501" y="394.0" width="1" height="2.5" fill="#ef5350"/>
<rect x="500" y="393.9" width="3" height="1.4" fill="#ef5350"/>
<rect x="504" y="393.9" width="1" height="8.7" fill="#ef5350"/>
<rect x="503" y="394.7" width="3" height="6.7" fill="#ef5350"/>
<rect x="507" y="399.9" width="1" height="16.8" fill="#ef5350"/>
<rect x="506" y="401.4" width="3" height="12.4" fill="#ef5350"/>
<rect x="510" y="413.0" width="1" height="1.5" fill="#26a69a"/>
<rect x="509" y="412.9" width="3" height="1.4" fill="#26a69a"/>
<rect x="513" y="412.8" width="1" height="6.4" fill="#ef5350"/>
<rect x="512" y="413.5" width="3" height="4.7" fill="#ef5350"/>
<rect x="516" y="417.9" width="1" height="2.9" fill="#ef5350"/>
<rect x="515" y="418.2" width="3" height="1.8" fill="#ef5350"/>
<rect x="519" y="410.1" width="1" height="10.5" fill="#26a69a"/>
<rect x="518" y="410.7" width="3" height="9.3" fill="#26a69a"/>
<rect x="522" y="407.7" width="1" height="3.8" fill="#26a69a"/>
<rect x="521" y="408.9" width="3" height="1.8" fill="#26a69a"/>
<rect x="525" y="404.2" width="1" height="5.9" fill="#26a69a"/>
<rect x="524" y="405.2" width="3" height="3.6" fill="#26a69a"/>
<rect x="528" y="403.8" width="1" height="10.4" fill="#ef5350"/>
<rect x="527" y="405.2" width="3" height="8.1" fill="#ef5350"/>
<rect x="531" y="412.1" width="1" height="2.0" fill="#26a69a"/>
<rect x="530" y="412.4" width="3" height="1.4" fill="#26a69a"/>
<rect x="534" y="412.2" width="1" height="2.8" fill="#ef5350"/>
<rect x="533" y="412.8" width="3" height="1.4" fill="#ef5350"/>
<rect x="537" y="413.5" width="1" height="2.6" fill="#ef5350"/>
<rect x="536" y="414.0" width="3" height="1.4" fill="#ef5350"/>
<rect x="540" y="412.2" width="1" height="4.2" fill="#26a69a"/>
<rect x="539" y="412.9" width="3" height="2.4" fill="#26a69a"/>
<rect x="543" y="409.1" width="1" height="5.0" fill="#26a69a"/>
<rect x="542" y="410.1" width="3" height="2.8" fill="#26a69a"/>
<rect x="546" y="403.0" width="1" height="7.9" fill="#ef5350"/>
<rect x="545" y="409.5" width="3" height="1.4" fill="#ef5350"/>
<rect x="550" y="409.4" width="1" height="2.5" fill="#ef5350"/>
<rect x="549" y="409.8" width="3" height="1.4" fill="#ef5350"/>
<rect x="553" y="408.5" width="1" height="2.6" fill="#26a69a"/>
<rect x="552" y="409.5" width="3" height="1.4" fill="#26a69a"/>
<rect x="556" y="408.6" width="1" height="1.8" fill="#26a69a"/>
<rect x="555" y="408.7" width="3" height="1.4" fill="#26a69a"/>
<rect x="559" y="408.6" width="1" height="1.4" fill="#ef5350"/>
<rect x="558" y="408.6" width="3" height="1.4" fill="#ef5350"/>
<rect x="562" y="408.0" width="1" height="2.5" fill="#26a69a"/>
<rect x="561" y="408.3" width="3" height="1.4" fill="#26a69a"/>
<rect x="565" y="400.1" width="1" height="9.9" fill="#26a69a"/>
<rect x="564" y="401.6" width="3" height="6.9" fill="#26a69a"/>
<rect x="568" y="400.9" width="1" height="3.4" fill="#ef5350"/>
<rect x="567" y="401.6" width="3" height="1.4" fill="#ef5350"/>
<rect x="571" y="401.3" width="1" height="2.2" fill="#26a69a"/>
<rect x="570" y="402.1" width="3" height="1.4" fill="#26a69a"/>
<rect x="574" y="401.1" width="1" height="6.2" fill="#ef5350"/>
<rect x="573" y="402.6" width="3" height="3.0" fill="#ef5350"/>
<rect x="577" y="403.5" width="1" height="3.6" fill="#26a69a"/>
<rect x="576" y="404.2" width="3" height="1.4" fill="#26a69a"/>
<rect x="580" y="397.5" width="1" height="7.8" fill="#26a69a"/>
<rect x="579" y="398.5" width="3" height="5.7" fill="#26a69a"/>
<rect x="583" y="381.9" width="1" height="18.8" fill="#26a69a"/>
<rect x="582" y="384.8" width="3" height="13.8" fill="#26a69a"/>
<rect x="586" y="381.4" width="1" height="4.9" fill="#26a69a"/>
<rect x="585" y="382.3" width="3" height="2.4" fill="#26a69a"/>
<rect x="589" y="378.3" width="1" height="5.4" fill="#26a69a"/>
<rect x="588" y="381.4" width="3" height="1.4" fill="#26a69a"/>
<rect x="592" y="380.9" width="1" height="10.6" fill="#ef5350"/>
<rect x="591" y="381.9" width="3" height="8.9" fill="#ef5350"/>
<rect x="595" y="380.2" width="1" height="11.3" fill="#26a69a"/>
<rect x="594" y="382.3" width="3" height="8.5" fill="#26a69a"/>
<rect x="598" y="371.8" width="1" height="12.3" fill="#26a69a"/>
<rect x="597" y="374.2" width="3" height="8.1" fill="#26a69a"/>
<rect x="601" y="362.7" width="1" height="17.5" fill="#ef5350"/>
<rect x="600" y="374.2" width="3" height="4.5" fill="#ef5350"/>
<rect x="604" y="372.5" width="1" height="8.1" fill="#26a69a"/>
<rect x="603" y="374.6" width="3" height="4.1" fill="#26a69a"/>
<rect x="607" y="373.7" width="1" height="20.9" fill="#ef5350"/>
<rect x="606" y="374.6" width="3" height="17.0" fill="#ef5350"/>
<rect x="610" y="389.8" width="1" height="8.7" fill="#ef5350"/>
<rect x="609" y="391.1" width="3" height="1.4" fill="#ef5350"/>
<rect x="613" y="391.3" width="1" height="4.3" fill="#ef5350"/>
<rect x="612" y="392.0" width="3" height="2.6" fill="#ef5350"/>
<rect x="617" y="390.8" width="1" height="5.7" fill="#26a69a"/>
<rect x="616" y="391.4" width="3" height="3.2" fill="#26a69a"/>
<rect x="620" y="388.8" width="1" height="5.8" fill="#ef5350"/>
<rect x="619" y="391.4" width="3" height="2.4" fill="#ef5350"/>
<rect x="623" y="392.7" width="1" height="7.4" fill="#ef5350"/>
<rect x="622" y="393.9" width="3" height="4.3" fill="#ef5350"/>
<rect x="626" y="396.5" width="1" height="3.7" fill="#ef5350"/>
<rect x="625" y="398.0" width="3" height="1.4" fill="#ef5350"/>
<rect x="629" y="398.7" width="1" height="5.4" fill="#ef5350"/>
<rect x="628" y="399.3" width="3" height="3.0" fill="#ef5350"/>
<rect x="632" y="399.8" width="1" height="3.9" fill="#26a69a"/>
<rect x="631" y="401.0" width="3" height="1.4" fill="#26a69a"/>
<rect x="635" y="398.4" width="1" height="3.1" fill="#26a69a"/>
<rect x="634" y="398.9" width="3" height="2.0" fill="#26a69a"/>
<rect x="638" y="392.5" width="1" height="7.6" fill="#26a69a"/>
<rect x="637" y="394.1" width="3" height="4.9" fill="#26a69a"/>
<rect x="641" y="393.4" width="1" height="12.8" fill="#ef5350"/>
<rect x="640" y="394.1" width="3" height="7.9" fill="#ef5350"/>
<rect x="644" y="400.1" width="1" height="3.3" fill="#26a69a"/>
<rect x="643" y="401.0" width="3" height="1.4" fill="#26a69a"/>
<rect x="647" y="396.9" width="1" height="6.0" fill="#26a69a"/>
<rect x="646" y="400.1" width="3" height="1.4" fill="#26a69a"/>
<rect x="650" y="399.6" width="1" height="3.3" fill="#ef5350"/>
<rect x="649" y="400.1" width="3" height="1.4" fill="#ef5350"/>
<rect x="653" y="396.5" width="1" height="9.1" fill="#26a69a"/>
<rect x="652" y="399.7" width="3" height="1.6" fill="#26a69a"/>
<rect x="656" y="398.6" width="1" height="3.3" fill="#ef5350"/>
<rect x="655" y="399.2" width="3" height="1.4" fill="#ef5350"/>
<rect x="659" y="397.9" width="1" height="2.9" fill="#26a69a"/>
<rect x="658" y="398.7" width="3" height="1.4" fill="#26a69a"/>
<rect x="662" y="397.5" width="1" height="2.8" fill="#ef5350"/>
<rect x="661" y="398.4" width="3" height="1.4" fill="#ef5350"/>
<rect x="665" y="398.9" width="1" height="10.4" fill="#ef5350"/>
<rect x="664" y="399.5" width="3" height="9.1" fill="#ef5350"/>
<rect x="668" y="406.0" width="1" height="3.2" fill="#26a69a"/>
<rect x="667" y="406.4" width="3" height="2.2" fill="#26a69a"/>
<rect x="671" y="405.7" width="1" height="1.8" fill="#ef5350"/>
<rect x="670" y="405.9" width="3" height="1.4" fill="#ef5350"/>
<rect x="674" y="405.6" width="1" height="2.9" fill="#ef5350"/>
<rect x="673" y="406.6" width="3" height="1.4" fill="#ef5350"/>
<rect x="677" y="407.0" width="1" height="6.3" fill="#ef5350"/>
<rect x="676" y="407.8" width="3" height="2.8" fill="#ef5350"/>
<rect x="681" y="409.2" width="1" height="1.8" fill="#26a69a"/>
<rect x="680" y="409.6" width="3" height="1.4" fill="#26a69a"/>
<rect x="684" y="409.1" width="1" height="1.1" fill="#26a69a"/>
<rect x="683" y="409.1" width="3" height="1.4" fill="#26a69a"/>
<rect x="687" y="406.3" width="1" height="4.3" fill="#26a69a"/>
<rect x="686" y="407.4" width="3" height="2.2" fill="#26a69a"/>
<rect x="690" y="402.8" width="1" height="5.7" fill="#26a69a"/>
<rect x="689" y="403.4" width="3" height="4.1" fill="#26a69a"/>
<rect x="693" y="401.4" width="1" height="2.5" fill="#26a69a"/>
<rect x="692" y="402.5" width="3" height="1.4" fill="#26a69a"/>
<rect x="696" y="398.0" width="1" height="6.0" fill="#26a69a"/>
<rect x="695" y="399.5" width="3" height="3.4" fill="#26a69a"/>
<rect x="699" y="389.0" width="1" height="12.5" fill="#26a69a"/>
<rect x="698" y="390.4" width="3" height="9.1" fill="#26a69a"/>
<rect x="702" y="378.3" width="1" height="13.7" fill="#26a69a"/>
<rect x="701" y="384.1" width="3" height="6.3" fill="#26a69a"/>
<rect x="705" y="378.7" width="1" height="8.1" fill="#26a69a"/>
<rect x="704" y="381.3" width="3" height="2.8" fill="#26a69a"/>
<rect x="708" y="380.0" width="1" height="16.2" fill="#ef5350"/>
<rect x="707" y="381.3" width="3" height="12.6" fill="#ef5350"/>
<rect x="711" y="385.8" width="1" height="12.2" fill="#ef5350"/>
<rect x="710" y="393.9" width="3" height="2.6" fill="#ef5350"/>
<rect x="714" y="395.2" width="1" height="24.0" fill="#ef5350"/>
<rect x="713" y="396.5" width="3" height="16.0" fill="#ef5350"/>
<rect x="717" y="412.2" width="1" height="4.6" fill="#ef5350"/>
<rect x="716" y="411.9" width="3" height="1.4" fill="#ef5350"/>
<rect x="720" y="409.9" width="1" height="3.9" fill="#26a69a"/>
<rect x="719" y="410.3" width="3" height="2.4" fill="#26a69a"/>
<rect x="723" y="407.2" width="1" height="3.6" fill="#26a69a"/>
<rect x="722" y="407.8" width="3" height="2.4" fill="#26a69a"/>
<rect x="726" y="404.5" width="1" height="4.7" fill="#26a69a"/>
<rect x="725" y="405.0" width="3" height="2.8" fill="#26a69a"/>
<rect x="729" y="398.8" width="1" height="7.6" fill="#26a69a"/>
<rect x="728" y="400.3" width="3" height="4.7" fill="#26a69a"/>
<rect x="732" y="396.2" width="1" height="5.0" fill="#26a69a"/>
<rect x="731" y="397.1" width="3" height="3.2" fill="#26a69a"/>
<rect x="735" y="393.1" width="1" height="5.2" fill="#26a69a"/>
<rect x="734" y="394.1" width="3" height="3.0" fill="#26a69a"/>
<rect x="738" y="393.3" width="1" height="7.2" fill="#ef5350"/>
<rect x="737" y="394.1" width="3" height="4.9" fill="#ef5350"/>
<rect x="741" y="394.2" width="1" height="6.7" fill="#26a69a"/>
<rect x="740" y="395.1" width="3" height="3.8" fill="#26a69a"/>
<rect x="744" y="393.1" width="1" height="4.1" fill="#ef5350"/>
<rect x="743" y="394.8" width="3" height="1.4" fill="#ef5350"/>
<rect x="748" y="389.2" width="1" height="8.8" fill="#26a69a"/>
<rect x="747" y="390.2" width="3" height="5.7" fill="#26a69a"/>
<rect x="751" y="386.0" width="1" height="5.4" fill="#26a69a"/>
<rect x="750" y="387.2" width="3" height="3.0" fill="#26a69a"/>
<rect x="754" y="386.6" width="1" height="4.7" fill="#ef5350"/>
<rect x="753" y="387.2" width="3" height="2.8" fill="#ef5350"/>
<rect x="757" y="388.7" width="1" height="3.6" fill="#ef5350"/>
<rect x="756" y="389.7" width="3" height="1.4" fill="#ef5350"/>
<rect x="760" y="389.9" width="1" height="2.9" fill="#ef5350"/>
<rect x="759" y="390.4" width="3" height="1.4" fill="#ef5350"/>
<rect x="763" y="390.3" width="1" height="2.2" fill="#26a69a"/>
<rect x="762" y="390.4" width="3" height="1.4" fill="#26a69a"/>
<rect x="766" y="387.2" width="1" height="4.9" fill="#26a69a"/>
<rect x="765" y="388.0" width="3" height="2.8" fill="#26a69a"/>
<rect x="769" y="387.3" width="1" height="1.9" fill="#ef5350"/>
<rect x="768" y="387.6" width="3" height="1.4" fill="#ef5350"/>
<rect x="772" y="372.6" width="1" height="17.3" fill="#26a69a"/>
<rect x="771" y="374.0" width="3" height="14.6" fill="#26a69a"/>
<rect x="775" y="352.4" width="1" height="24.0" fill="#26a69a"/>
<rect x="774" y="361.3" width="3" height="12.8" fill="#26a69a"/>
<rect x="778" y="354.9" width="1" height="9.1" fill="#26a69a"/>
<rect x="777" y="358.0" width="3" height="3.2" fill="#26a69a"/>
<rect x="781" y="346.9" width="1" height="15.0" fill="#26a69a"/>
<rect x="780" y="349.3" width="3" height="8.7" fill="#26a69a"/>
<rect x="784" y="347.0" width="1" height="12.9" fill="#ef5350"/>
<rect x="783" y="349.3" width="3" height="8.5" fill="#ef5350"/>
<rect x="787" y="348.9" width="1" height="10.4" fill="#26a69a"/>
<rect x="786" y="350.3" width="3" height="7.5" fill="#26a69a"/>
<rect x="790" y="338.2" width="1" height="36.0" fill="#ef5350"/>
<rect x="789" y="350.3" width="3" height="15.2" fill="#ef5350"/>
<rect x="793" y="361.9" width="1" height="6.8" fill="#26a69a"/>
<rect x="792" y="362.9" width="3" height="2.6" fill="#26a69a"/>
<rect x="796" y="358.6" width="1" height="10.6" fill="#26a69a"/>
<rect x="795" y="361.7" width="3" height="1.4" fill="#26a69a"/>
<rect x="799" y="359.0" width="1" height="14.6" fill="#ef5350"/>
<rect x="798" y="361.9" width="3" height="2.8" fill="#ef5350"/>
<rect x="802" y="363.5" width="1" height="4.3" fill="#ef5350"/>
<rect x="801" y="364.4" width="3" height="1.4" fill="#ef5350"/>
<rect x="805" y="358.8" width="1" height="9.9" fill="#26a69a"/>
<rect x="804" y="361.1" width="3" height="4.5" fill="#26a69a"/>
<rect x="808" y="357.3" width="1" height="6.9" fill="#26a69a"/>
<rect x="807" y="360.1" width="3" height="1.4" fill="#26a69a"/>
<rect x="811" y="352.1" width="1" height="12.0" fill="#26a69a"/>
<rect x="810" y="354.8" width="3" height="5.7" fill="#26a69a"/>
<rect x="815" y="351.8" width="1" height="8.1" fill="#ef5350"/>
<rect x="814" y="354.8" width="3" height="2.0" fill="#ef5350"/>
<rect x="818" y="343.2" width="1" height="14.8" fill="#26a69a"/>
<rect x="817" y="345.1" width="3" height="11.7" fill="#26a69a"/>
<rect x="821" y="343.5" width="1" height="5.1" fill="#ef5350"/>
<rect x="820" y="345.0" width="3" height="1.4" fill="#ef5350"/>
<rect x="824" y="322.2" width="1" height="28.8" fill="#26a69a"/>
<rect x="823" y="324.0" width="3" height="22.3" fill="#26a69a"/>
<rect x="827" y="309.8" width="1" height="30.0" fill="#26a69a"/>
<rect x="826" y="320.4" width="3" height="3.6" fill="#26a69a"/>
<rect x="830" y="308.0" width="1" height="16.8" fill="#26a69a"/>
<rect x="829" y="315.3" width="3" height="5.1" fill="#26a69a"/>
<rect x="833" y="311.7" width="1" height="18.0" fill="#ef5350"/>
<rect x="832" y="315.3" width="3" height="2.2" fill="#ef5350"/>
<rect x="836" y="300.1" width="1" height="22.4" fill="#26a69a"/>
<rect x="835" y="307.8" width="3" height="9.7" fill="#26a69a"/>
<rect x="839" y="292.0" width="1" height="33.8" fill="#26a69a"/>
<rect x="838" y="298.7" width="3" height="9.1" fill="#26a69a"/>
<rect x="842" y="232.5" width="1" height="66.8" fill="#26a69a"/>
<rect x="841" y="239.6" width="3" height="59.1" fill="#26a69a"/>
<rect x="845" y="177.8" width="1" height="79.7" fill="#26a69a"/>
<rect x="844" y="181.3" width="3" height="57.1" fill="#26a69a"/>
<line x1="7" y1="181.5" x2="1006" y2="181.5" stroke="#26a69a" stroke-width="1" stroke-dasharray="1 2"/>
<path d="M154.5 482.7 L157.5 482.9 L160.5 480.9 L163.5 479.7 L166.5 478.9 L169.5 482.3 L172.5 482.5 L175.5 482.8 L178.5 484.6 L181.5 485.5 L184.5 488.1 L187.5 489.2 L190.5 491.1 L193.5 494.2 L196.5 491.1 L199.5 492.1 L202.5 493.9 L205.5 489.8 L208.5 481.7 L211.5 483.2 L214.5 480.3 L218.5 481.0 L221.5 478.4 L224.5 478.0 L227.5 473.8 L230.5 469.6 L233.5 461.8 L236.5 458.1 L239.5 450.0 L242.5 449.0 L245.5 452.5 L248.5 460.3 L251.5 458.4 L254.5 458.2 L257.5 451.5 L260.5 450.0 L263.5 455.2 L266.5 449.8 L269.5 448.7 L272.5 446.9 L275.5 445.7 L278.5 445.6 L281.5 462.3 L285.5 462.1 L288.5 469.0 L291.5 479.9 L294.5 473.8 L297.5 477.3 L300.5 472.5 L303.5 470.4 L306.5 470.3 L309.5 467.6 L312.5 467.4 L315.5 473.3 L318.5 477.4 L321.5 475.3 L324.5 474.2 L327.5 473.7 L330.5 471.5 L333.5 476.2 L336.5 475.7 L339.5 476.3 L342.5 475.4 L345.5 471.3 L348.5 464.5 L352.5 465.4 L355.5 468.1 L358.5 457.9 L361.5 461.2 L364.5 459.9 L367.5 453.8 L370.5 451.6 L373.5 467.0 L376.5 464.3 L379.5 476.4 L382.5 476.6 L385.5 474.7 L388.5 476.8 L391.5 476.2 L394.5 480.2 L397.5 484.7 L400.5 485.0 L403.5 488.1 L406.5 487.5 L409.5 483.6 L412.5 481.2 L416.5 479.4 L419.5 476.9 L422.5 478.6 L425.5 479.1 L428.5 483.4 L431.5 481.8 L434.5 484.3 L437.5 485.3 L440.5 486.6 L443.5 486.8 L446.5 485.2 L449.5 486.5 L452.5 486.2 L455.5 485.6 L458.5 487.8 L461.5 490.8 L464.5 491.5 L467.5 492.3 L470.5 491.1 L473.5 494.4 L476.5 492.7 L479.5 491.2 L483.5 491.7 L486.5 492.0 L489.5 493.2 L492.5 492.5 L495.5 492.4 L498.5 492.0 L501.5 492.1 L504.5 493.8 L507.5 496.8 L510.5 496.6 L513.5 497.7 L516.5 498.1 L519.5 492.8 L522.5 491.8 L525.5 489.8 L528.5 492.5 L531.5 492.3 L534.5 492.7 L537.5 493.1 L540.5 491.4 L543.5 489.5 L546.5 489.6 L550.5 489.8 L553.5 488.9 L556.5 488.4 L559.5 488.7 L562.5 487.7 L565.5 481.7 L568.5 482.8 L571.5 482.5 L574.5 484.9 L577.5 483.6 L580.5 478.7 L583.5 470.1 L586.5 468.9 L589.5 468.7 L592.5 476.6 L595.5 472.0 L598.5 468.4 L601.5 471.9 L604.5 470.1 L607.5 481.1 L610.5 481.3 L613.5 482.8 L617.5 480.9 L620.5 482.3 L623.5 484.7 L626.5 485.4 L629.5 487.2 L632.5 486.1 L635.5 484.5 L638.5 480.9 L641.5 486.0 L644.5 485.5 L647.5 484.6 L650.5 485.4 L653.5 484.0 L656.5 484.3 L659.5 483.0 L662.5 483.7 L665.5 490.6 L668.5 488.3 L671.5 488.6 L674.5 489.3 L677.5 491.4 L681.5 490.4 L684.5 490.1 L687.5 487.3 L690.5 482.5 L693.5 482.1 L696.5 478.4 L699.5 470.9 L702.5 467.1 L705.5 465.7 L708.5 478.0 L711.5 480.0 L714.5 489.6 L717.5 489.7 L720.5 487.8 L723.5 485.9 L726.5 483.8 L729.5 480.5 L732.5 478.3 L735.5 476.4 L738.5 480.1 L741.5 477.6 L744.5 478.2 L748.5 474.6 L751.5 472.8 L754.5 475.3 L757.5 476.0 L760.5 476.6 L763.5 476.2 L766.5 474.0 L769.5 474.7 L772.5 466.0 L775.5 461.3 L778.5 460.4 L781.5 458.1 L784.5 465.7 L787.5 463.3 L790.5 473.8 L793.5 472.7 L796.5 472.3 L799.5 474.2 L802.5 474.8 L805.5 472.7 L808.5 472.4 L811.5 469.8 L815.5 471.4 L818.5 466.6 L821.5 467.6 L824.5 461.0 L827.5 460.2 L830.5 459.1 L833.5 460.9 L836.5 458.8 L839.5 457.1 L842.5 451.1 L845.5 448.6" fill="none" stroke="#9c27b0" stroke-width="1.2" stroke-linejoin="round" stroke-linecap="round"/>
<text x="1015" y="199.0" font-family="Liberation Sans, sans-serif" font-size="11.5" fill="#131722">1200.00</text>
<rect x="1006" y="172" width="60" height="19" fill="#26a69a"/>
<rect x="1024" y="192" width="42" height="18.7" fill="#26a69a"/>
<rect x="1006" y="181" width="4" height="1" fill="#fff"/>
<g transform="translate(6,543.5)"><g fill="#2196f3"><circle cx="4.3" cy="10.6" r="4.5"/><circle cx="11" cy="6.4" r="6.05"/><circle cx="19.7" cy="8.2" r="3.9"/><circle cx="22.2" cy="11.1" r="4.2"/><rect x="3" y="9" width="20.2" height="6.4" rx="1.5"/></g><path d="M-0.4 13.5 L9.75 6.3 L16.05 11.85 L23.2 4.2" fill="none" stroke="#fff" stroke-width="1"/><circle cx="9.75" cy="6.3" r="1.75" fill="#fff"/><circle cx="16.05" cy="11.85" r="1.8" fill="#fff"/></g>
</svg>
<div id="frame"></div>
<span style="position:absolute;left:15.60px;top:54px;font-size:12.5px;line-height:14px;letter-spacing:-0.146px;color:#131722;font-weight:bold;">Ethereum&nbsp;/&nbsp;U.S.&nbsp;Dollar,&nbsp;1W,&nbsp;COINBASE</span>
<span style="position:absolute;left:15.60px;top:71px;font-size:12.5px;line-height:14px;letter-spacing:-0.043px;color:#05070d;">MA&nbsp;(50,&nbsp;close,&nbsp;0)</span>
<span style="position:absolute;left:15.60px;top:88px;font-size:12.5px;line-height:14px;letter-spacing:0.011px;color:#05070d;">Vol</span>
<span style="position:absolute;left:15.60px;top:105px;font-size:12.5px;line-height:14px;letter-spacing:-0.038px;color:#05070d;">MA&nbsp;(100,&nbsp;close,&nbsp;0)</span>
<span style="position:absolute;left:15.60px;top:122px;font-size:12.5px;line-height:14px;letter-spacing:-0.038px;color:#05070d;">MA&nbsp;(200,&nbsp;close,&nbsp;0)</span>
<span style="position:absolute;left:15.40px;top:448px;font-size:12.5px;line-height:14px;letter-spacing:-0.362px;color:#05070d;">RSI&nbsp;(14,&nbsp;close)</span>
<span style="position:absolute;left:1015.00px;top:391px;font-size:11.5px;line-height:12px;letter-spacing:0.000px;color:#05070d;">200.00</span>
<span style="position:absolute;left:1015.00px;top:351px;font-size:11.5px;line-height:12px;letter-spacing:0.000px;color:#05070d;">400.00</span>
<span style="position:absolute;left:1015.00px;top:310px;font-size:11.5px;line-height:12px;letter-spacing:0.000px;color:#05070d;">600.00</span>
<span style="position:absolute;left:1015.00px;top:270px;font-size:11.5px;line-height:12px;letter-spacing:0.000px;color:#05070d;">800.00</span>
<span style="position:absolute;left:1015.00px;top:229px;font-size:11.5px;line-height:12px;letter-spacing:0.000px;color:#05070d;">1000.00</span>
<span style="position:absolute;left:1015.00px;top:148px;font-size:11.5px;line-height:12px;letter-spacing:0.000px;color:#05070d;">1400.00</span>
<span style="position:absolute;left:1015.00px;top:108px;font-size:11.5px;line-height:12px;letter-spacing:0.000px;color:#05070d;">1600.00</span>
<span style="position:absolute;left:1015.00px;top:67px;font-size:11.5px;line-height:12px;letter-spacing:0.000px;color:#05070d;">1800.00</span>
<span style="position:absolute;left:1015.00px;top:453px;font-size:11.5px;line-height:12px;letter-spacing:0.000px;color:#05070d;">80.00</span>
<span style="position:absolute;left:1015.00px;top:483px;font-size:11.5px;line-height:12px;letter-spacing:0.000px;color:#05070d;">40.00</span>
<div style="position:absolute;left:1020px;top:50px;width:32px;height:20px;box-sizing:border-box;border:1px solid #d1d4dc;border-radius:4px;background:#fff"></div>
<span style="position:absolute;left:1026.00px;top:53px;font-size:10.5px;line-height:12px;letter-spacing:0.000px;color:#05070d;display:inline-block;transform-origin:0 0;transform:scaleX(0.9157);">USD</span>
<span style="position:absolute;left:1015.20px;top:176px;font-size:11.5px;line-height:12px;letter-spacing:0.088px;color:#fff;font-weight:bold;">1262.54</span>
<span style="position:absolute;left:1028.70px;top:195px;font-size:11.5px;line-height:12px;letter-spacing:-0.359px;color:#fff;font-weight:bold;">3d&nbsp;8h</span>
<span style="position:absolute;left:107.75px;top:513px;font-size:12px;line-height:14px;letter-spacing:-0.324px;color:#05070d;">Jun</span>
<span style="position:absolute;left:195.00px;top:513px;font-size:12px;line-height:14px;letter-spacing:0.168px;color:#05070d;">2017</span>
<span style="position:absolute;left:353.30px;top:513px;font-size:12px;line-height:14px;letter-spacing:0.168px;color:#05070d;">2018</span>
<span style="position:absolute;left:514.80px;top:513px;font-size:12px;line-height:14px;letter-spacing:0.168px;color:#05070d;">2019</span>
<span style="position:absolute;left:673.30px;top:513px;font-size:12px;line-height:14px;letter-spacing:0.168px;color:#05070d;">2020</span>
<span style="position:absolute;left:831.50px;top:513px;font-size:12px;line-height:14px;letter-spacing:0.168px;color:#05070d;">2021</span>
<span style="position:absolute;left:990.5px;top:513px;width:15.5px;overflow:hidden;font-size:12px;line-height:14px;">2022</span>
<span style="position:absolute;left:34.20px;top:545px;font-size:12.5px;line-height:14px;letter-spacing:0.191px;color:#05070d;">TradingView</span>
</div></body></html>
